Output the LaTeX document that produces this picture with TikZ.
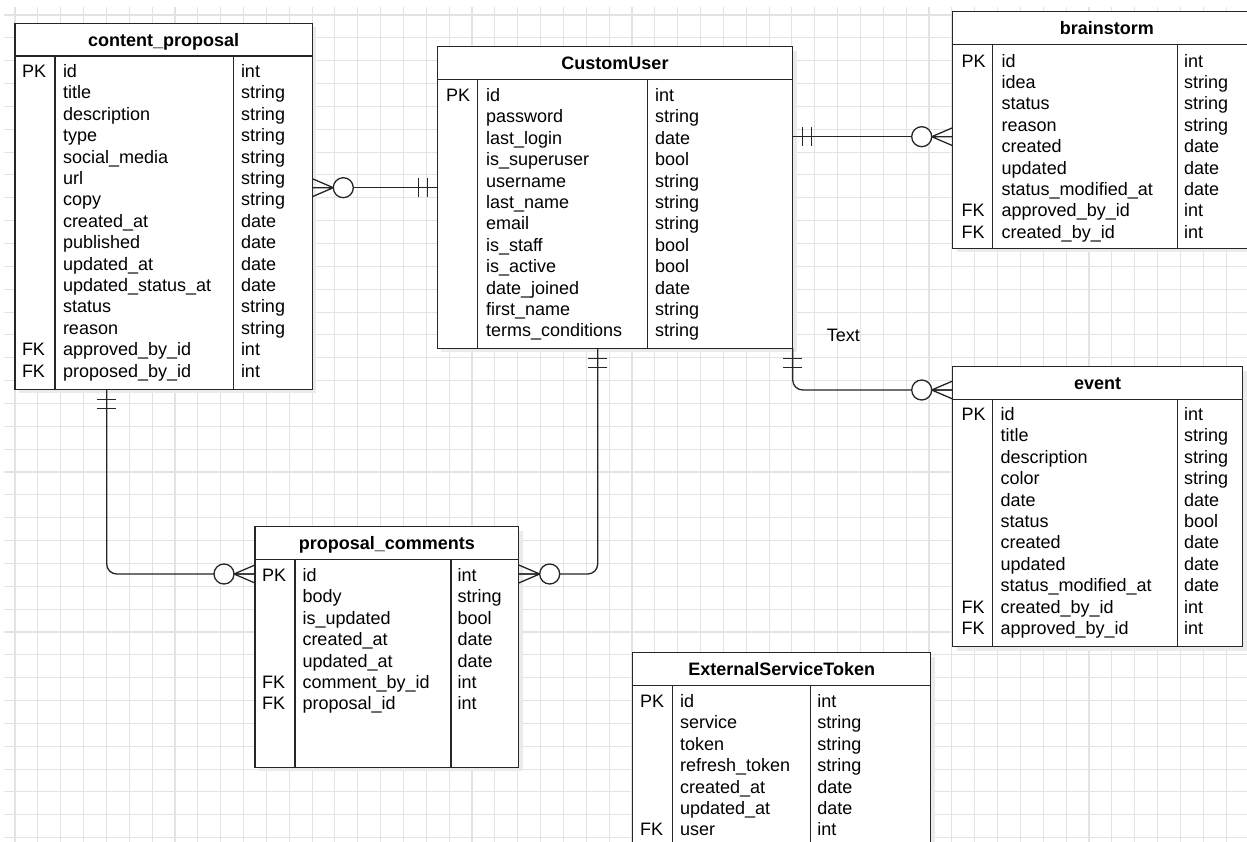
\documentclass[tikz,border=0pt]{standalone}
\usepackage{fontspec}
\setmainfont{Liberation Sans}
\usetikzlibrary{calc}
\tikzset{
  gridl/.style={draw=black!11, line width=1.1pt},
  tbox/.style={draw=black!85, line width=1.3pt, fill=white, inner sep=0pt, outer sep=0pt},
  tline/.style={draw=black!85, line width=1.3pt},
  cell/.style={inner sep=0pt, outer sep=0pt, anchor=west, text height=12.9pt, text depth=0pt, font=\fontsize{18}{21.4}\selectfont, text=black},
  ttl/.style={cell, anchor=center, font=\fontsize{18}{21.4}\selectfont\bfseries},
  cline/.style={draw=black!85, line width=1.3pt},
  shadowc/.style={fill=black!8},
  pics/zmany/.style={code={
    \draw[cline] (0,9) -- (21,0) (0,-9) -- (21,0) (0,0) -- (21,0);
    \draw[cline, fill=white] (31,0) circle[radius=10];
  }},
  pics/mone/.style={code={
    \draw[cline] (10,-9.5) -- (10,9.5) (19,-9.5) -- (19,9.5);
  }},
}
% #1 name, #2 x, #3 y, #4 width, #5 height, #6 title, #7 type divider offset
\newcommand{\tblframe}[7]{%
  \fill[shadowc] ({#2+4},{#3+4}) rectangle ++(#4,#5);
  \node[tbox, minimum width=#4pt, minimum height=#5pt, anchor=north west] (#1) at (#2,#3) {};
  \draw[tline] ([yshift=-32.6pt]#1.north west) -- ([yshift=-32.6pt]#1.north east);
  \draw[tline] ([shift={(40pt,-32.6pt)}]#1.north west) -- ([xshift=40pt]#1.south west);
  \draw[tline] ([shift={(#7pt,-32.6pt)}]#1.north west) -- ([xshift=#7pt]#1.south west);
  \node[ttl] (#1title) at ([yshift=-16.3pt]#1.north) {#6};
}
% #1 prefix, #2 name x, #3 type x, #4 first row y, #5 list
\newcommand{\tblrows}[5]{%
  \foreach \vname/\vtype [count=\i] in {#5}{%
    \node[cell] (#1n\i) at ({#2},{#4+21.4*(\i-1)}) {\vname};
    \node[cell] (#1t\i) at ({#3},{#4+21.4*(\i-1)}) {\vtype};
  }%
}
\begin{document}
\begin{tikzpicture}[x=1pt,y=-1pt]
\useasboundingbox (0,0) rectangle (1247,842);
\clip (0,0) rectangle (1247,842);
\fill[white] (0,0) rectangle (1247,842);
\foreach \k in {0,...,54} \draw[gridl] ({15+22.85*\k},7) -- ({15+22.85*\k},842);
\foreach \k in {0,...,36} \draw[gridl] (4,{15+22.85*\k}) -- (1247,{15+22.85*\k});

% content_proposal
\tblframe{cp}{15}{23.3}{297.3}{366}{content\_proposal}{218.3}
\tblrows{cp}{63}{241}{71}{id/int, title/string, description/string, type/string, social\_media/string, url/string, copy/string, created\_at/date, published/date, updated\_at/date, updated\_status\_at/date, status/string, reason/string, approved\_by\_id/int, proposed\_by\_id/int}
\node[cell] (cpk1) at (22,71) {PK};
\node[cell] (cpk14) at (22,{71+21.4*13}) {FK};
\node[cell] (cpk15) at (22,{71+21.4*14}) {FK};

% CustomUser
\tblframe{cu}{437.3}{46.7}{355.4}{301.6}{CustomUser}{210}
\tblrows{cu}{486}{655}{95}{id/int, password/string, last\_login/date, is\_superuser/bool, username/string, last\_name/string, email/string, is\_staff/bool, is\_active/bool, date\_joined/date, first\_name/string, terms\_conditions/string}
\node[cell] (cuk1) at (446,95) {PK};

% brainstorm
\tblframe{bs}{952.7}{11.7}{308.3}{236.6}{brainstorm}{224.6}
\tblrows{bs}{1001.7}{1184}{60.7}{id/int, idea/string, status/string, reason/string, created/date, updated/date, status\_modified\_at/date, approved\_by\_id/int, created\_by\_id/int}
\node[cell] (bsk1) at (961.5,60.7) {PK};
\node[cell] (bsk8) at (961.5,{60.7+21.4*7}) {FK};
\node[cell] (bsk9) at (961.5,{60.7+21.4*8}) {FK};

% event
\tblframe{ev}{952.7}{366.7}{290}{280}{event}{224.6}
\tblrows{ev}{1000.5}{1184}{414}{id/int, title/string, description/string, color/string, date/date, status/bool, created/date, updated/date, status\_modified\_at/date, created\_by\_id/int, approved\_by\_id/int}
\node[cell] (evk1) at (961.5,414) {PK};
\node[cell] (evk10) at (961.5,{414+21.4*9}) {FK};
\node[cell] (evk11) at (961.5,{414+21.4*10}) {FK};

% proposal_comments
\tblframe{pc}{255}{526.7}{263.7}{240.6}{proposal\_comments}{195.9}
\tblrows{pc}{302.5}{457.5}{575}{id/int, body/string, is\_updated/bool, created\_at/date, updated\_at/date, comment\_by\_id/int, proposal\_id/int}
\node[cell] (pck1) at (262,575) {PK};
\node[cell] (pck6) at (262,{575+21.4*5}) {FK};
\node[cell] (pck7) at (262,{575+21.4*6}) {FK};

% ExternalServiceToken
\tblframe{et}{632.7}{652.7}{298}{230}{ExternalServiceToken}{178}
\tblrows{et}{680}{817.3}{701}{id/int, service/string, token/string, refresh\_token/string, created\_at/date, updated\_at/date, user/int}
\node[cell] (etk1) at (640,701) {PK};
\node[cell] (etk7) at (640,{701+21.4*6}) {FK};

% label
\node[cell, anchor=center] (lbl) at (843.3,335) {Text};

% connectors
\coordinate (r1) at (0,187.7);
\coordinate (r2) at (0,136.7);
\coordinate (r3) at (597.7,574);
\coordinate (r4) at (106.7,574);
\coordinate (r5) at (792.7,390);

\draw[cline] (cp.east |- r1) -- (cu.west |- r1);
\pic at (cp.east |- r1) {zmany};
\pic[rotate=180] at (cu.west |- r1) {mone};

\draw[cline] (cu.east |- r2) -- (bs.west |- r2);
\pic at (cu.east |- r2) {mone};
\pic[rotate=180] at (bs.west |- r2) {zmany};

\draw[cline, rounded corners=10pt] (cu.south -| r3) -- (r3) -- (pc.east |- r3);
\pic[rotate=-90] at (cu.south -| r3) {mone};
\pic at (pc.east |- r3) {zmany};

\draw[cline, rounded corners=10pt] (cp.south -| r4) -- (r4) -- (pc.west |- r4);
\pic[rotate=-90] at (cp.south -| r4) {mone};
\pic[rotate=180] at (pc.west |- r4) {zmany};

\draw[cline, rounded corners=10pt] (cu.south east) -- (r5) -- (ev.west |- r5);
\pic[rotate=-90] at (cu.south east) {mone};
\pic[rotate=180] at (ev.west |- r5) {zmany};
\end{tikzpicture}
\end{document}
